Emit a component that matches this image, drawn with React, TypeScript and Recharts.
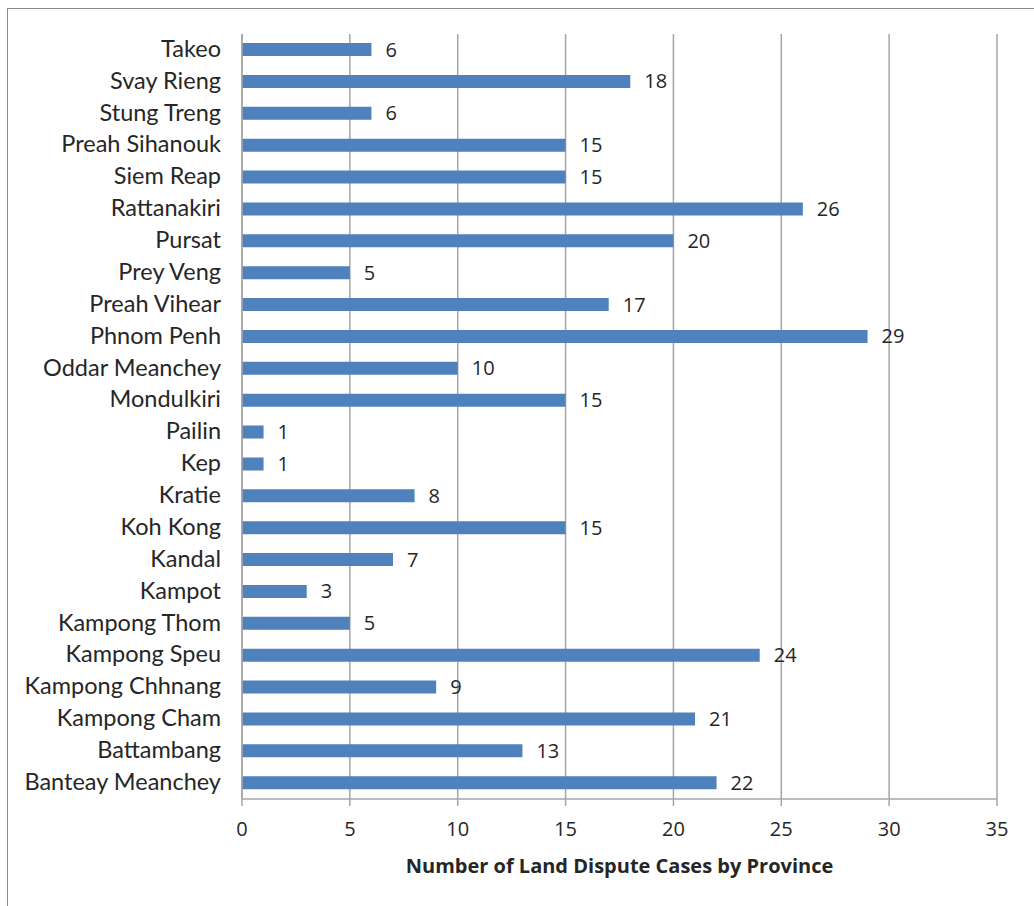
import { BarChart, Bar, XAxis, YAxis, CartesianGrid, LabelList } from 'recharts';

// provinces listed top to bottom as drawn
const provinces = [
  'Takeo',
  'Svay Rieng',
  'Stung Treng',
  'Preah Sihanouk',
  'Siem Reap',
  'Rattanakiri',
  'Pursat',
  'Prey Veng',
  'Preah Vihear',
  'Phnom Penh',
  'Oddar Meanchey',
  'Mondulkiri',
  'Pailin',
  'Kep',
  'Kratie',
  'Koh Kong',
  'Kandal',
  'Kampot',
  'Kampong Thom',
  'Kampong Speu',
  'Kampong Chhnang',
  'Kampong Cham',
  'Battambang',
  'Banteay Meanchey',
];

const cases = [6, 18, 6, 15, 15, 26, 20, 5, 17, 29, 10, 15, 1, 1, 8, 15, 7, 3, 5, 24, 9, 21, 13, 22];

const xTicks = [0, 5, 10, 15, 20, 25, 30, 35];

const data = provinces.map((name, i) => ({ name, cases: cases[i] }));

const GRID = '#a6a6a6';
const BAR = '#4f81bd';
const TEXT = '#262626';

export default function App() {
  return (
    <div style={{ position: 'relative', width: 1034, height: 906, background: '#fff', overflow: 'hidden' }}>
      <style>{'body{margin:0;overflow:hidden;}'}</style>
      <div
        style={{
          position: 'absolute',
          left: 7,
          top: 8,
          width: 1060,
          height: 940,
          borderLeft: '1.5px solid #8c8c8c',
          borderTop: '1.5px solid #8c8c8c',
        }}
      />
      <div style={{ position: 'absolute', left: 0, top: 0 }}>
        <BarChart
          width={1034}
          height={906}
          data={data}
          layout="vertical"
          margin={{ top: 34, right: 37, bottom: 27, left: 0 }}
          barSize={13}
        >
          <CartesianGrid horizontal={false} stroke={GRID} strokeWidth={1.5} />
          <XAxis
            type="number"
            domain={[0, 35]}
            ticks={xTicks}
            height={80}
            axisLine={{ stroke: GRID, strokeWidth: 1.5 }}
            tickLine={{ stroke: GRID, strokeWidth: 1.5 }}
            tickSize={7}
            tickMargin={16}
            tick={{ fontSize: 20, fill: TEXT, fontFamily: 'Open Sans' }}
            label={{
              value: 'Number of Land Dispute Cases by Province',
              position: 'insideBottom',
              offset: 6,
              style: { fontSize: 20, fontWeight: 700, fill: TEXT, fontFamily: 'Open Sans' },
            }}
          />
          <YAxis
            type="category"
            dataKey="name"
            width={242}
            interval={0}
            axisLine={{ stroke: GRID, strokeWidth: 1.5 }}
            tickLine={false}
            tickSize={6}
            tickMargin={15}
            tick={{ fontSize: 23.5, fill: TEXT, fontFamily: 'Lato', dy: -1.5 }}
          />
          <Bar dataKey="cases" fill={BAR} isAnimationActive={false}>
            <LabelList
              dataKey="cases"
              position="right"
              offset={14}
              style={{ fontSize: 20, fill: TEXT, fontFamily: 'Open Sans' }}
            />
          </Bar>
        </BarChart>
      </div>
    </div>
  );
}
